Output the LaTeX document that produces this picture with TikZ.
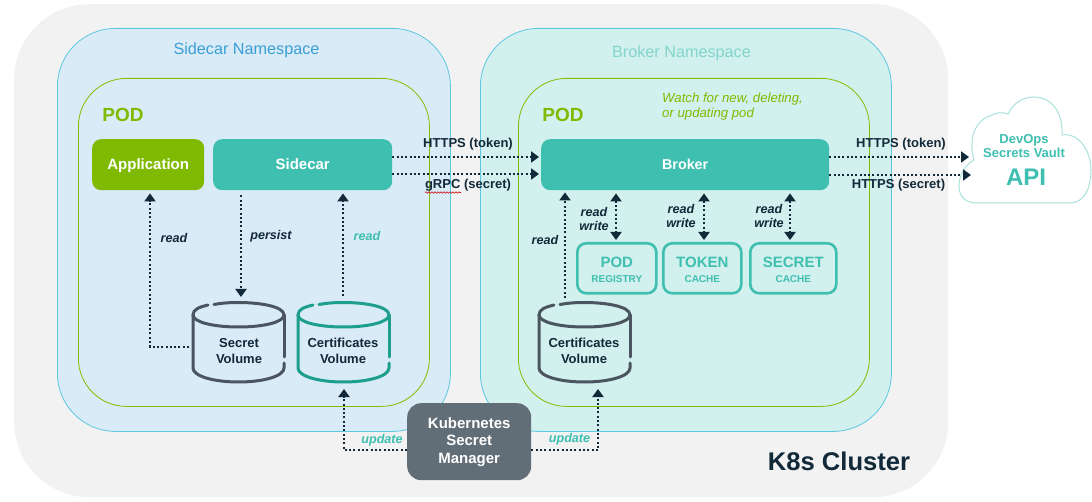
\documentclass[tikz,border=0pt]{standalone}
\usepackage{fontspec}
\setmainfont{Liberation Sans}
\usetikzlibrary{arrows.meta,calc,decorations.pathmorphing}
\definecolor{bgc}{HTML}{F2F2F2}
\definecolor{nsa}{HTML}{D8EBF6}
\definecolor{nsb}{HTML}{D2F0EE}
\definecolor{nsl}{HTML}{5CC8E0}
\definecolor{nsblue}{HTML}{3B9FD6}
\definecolor{podl}{HTML}{84BD00}
\definecolor{teal}{HTML}{3EBFB0}
\definecolor{lime}{HTML}{80BA00}
\definecolor{ink}{HTML}{12293A}
\definecolor{gry}{HTML}{626E77}
\definecolor{cylt}{HTML}{1E9E8C}
\definecolor{cyld}{HTML}{4A5560}
\newcommand{\fs}[1]{\fontsize{#1}{#1}\selectfont}
\newcommand{\cachetext}[2]{\rule{0pt}{13pt}{\fs{15}\bfseries #1}\\[3pt]{\fs{10}\bfseries #2}}
\tikzset{
  region/.style={draw=#1,line width=0.8pt,anchor=north west,inner sep=0pt},
  boxx/.style={fill=teal,rounded corners=9pt,text=white,font=\fs{15}\bfseries,inner sep=0pt,anchor=north west,text height=12pt,text depth=2pt},
  cache/.style={draw=teal,line width=2.6pt,fill=none,rounded corners=9pt,anchor=north west,inner sep=0pt,align=center,text=teal},
  conn/.style={ink,line width=2.1pt,dash pattern=on 2pt off 2.3pt,-{Triangle[length=8pt,width=11pt,sep=0pt]}},
  conn2/.style={conn,{Triangle[length=8pt,width=11pt]}-{Triangle[length=8pt,width=11pt]}},
  lbl/.style={font=\fs{13}\bfseries,text=ink,inner sep=0pt},
  ital/.style={font=\fs{12.6}\bfseries\itshape,text=ink,inner sep=0pt,align=center},
  cyltext/.style={font=\fs{13}\bfseries,text=ink,align=center,inner sep=0pt},
  cyl/.style={line width=3pt,line cap=round,#1},
}
\newcommand{\cylinder}[2]{% left x, colour
  \begin{scope}[shift={(#1,0)}]
   \draw[cyl=#2] (15,305) .. controls (7,307) and (0,309) .. (0,315) .. controls (0,322) and (20,327) .. (45.5,327) .. controls (71,327) and (91,322) .. (91,315) .. controls (91,306) and (65,302.5) .. (45.5,302.5) .. controls (37,302.5) and (29,303) .. (21,304.5);
   \draw[cyl=#2] (0,315) -- (0,368) .. controls (0,376) and (20,382) .. (45.5,382) .. controls (71,382) and (91,376) .. (91,368) -- (91,363);
   \draw[cyl=#2] (91,315) -- (91,357);
  \end{scope}}
\begin{document}
\begin{tikzpicture}[x=1pt,y=-1pt]
\useasboundingbox (0,0) rectangle (1092,502);
% regions
\node[fill=bgc,rounded corners=75pt,anchor=north west,minimum width=934pt,minimum height=493pt,inner sep=0pt] (cluster) at (14,4) {};
\node[region=nsl,fill=nsa,rounded corners=58pt,minimum width=393pt,minimum height=403pt] (nsside) at (57,28) {};
\node[region=nsl,fill=nsb,rounded corners=58pt,minimum width=411pt,minimum height=403pt] (nsbroker) at (480,28) {};
\node[region=podl,rounded corners=48pt,minimum width=351pt,minimum height=328pt] (podside) at (78,78) {};
\node[region=podl,rounded corners=48pt,minimum width=351pt,minimum height=328pt] (podbroker) at (518,78) {};
\node[font=\fs{16.2},inner sep=0pt,text=nsblue] (tside) at (246.5,50) {Sidecar Namespace};
\node[font=\fs{16.2},text=teal!65,inner sep=0pt] (tbroker) at (681.5,53) {Broker Namespace};
\node[font=\fs{19}\bfseries,text=lime,inner sep=0pt] (tpoda) at (123,115) {POD};
\node[font=\fs{19}\bfseries,text=lime,inner sep=0pt] (tpodb) at (563,115) {POD};
\node[font=\fs{13.2}\itshape,text=lime,align=left,anchor=north west,inner sep=0pt] (twatch) at (662,93) {Watch for new, deleting,\\[2pt]or updating pod};
\node[font=\fs{25.6}\bfseries,text=ink,inner sep=0pt] (tk8s) at (839,461) {K8s Cluster};
% boxes
\node[boxx,fill=lime,minimum width=112pt,minimum height=51pt] (app) at (92,139) {Application};
\node[boxx,minimum width=179pt,minimum height=51pt] (sidecar) at (213,139) {Sidecar};
\node[boxx,minimum width=288pt,minimum height=51pt,font=\fs{14.3}\bfseries] (broker) at (541,139) {Broker};
\node[cache,minimum width=79pt,minimum height=50pt] (reg) at (576,242) {\cachetext{POD}{REGISTRY}};
\node[cache,minimum width=78pt,minimum height=50pt] (tok) at (662,242) {\cachetext{TOKEN}{CACHE}};
\node[cache,minimum width=86pt,minimum height=50pt] (sec) at (749,242) {\cachetext{SECRET}{CACHE}};
\node[fill=gry,rounded corners=14pt,anchor=north west,minimum width=124pt,minimum height=77pt,inner sep=0pt,text=white,align=center,font=\fs{15}\bfseries] (ksm) at (407,403) {Kubernetes\\[2.5pt]Secret\\[2.5pt]Manager};
% cloud
\draw[draw=teal!45,fill=white,line width=1pt] (977,203)
  .. controls (965,203) and (959,196) .. (959,186)
  .. controls (959,175) and (965,165) .. (974,160)
  .. controls (968,140) and (975,120) .. (990,116)
  .. controls (997,112) and (1003,112) .. (1008,114)
  .. controls (1013,103) and (1023,97) .. (1034,97)
  .. controls (1050,97) and (1063,110) .. (1062,135)
  .. controls (1078,132) and (1091,150) .. (1091,170)
  .. controls (1091,190) and (1083,203) .. (1070,203) -- cycle;
\node[font=\fs{13}\bfseries,text=teal,align=center,inner sep=0pt] (cloudt) at (1024,146) {DevOps\\[1.5pt]Secrets Vault};
\node[font=\fs{24}\bfseries,text=teal,inner sep=0pt] (cloudapi) at (1026,177) {API};
\coordinate (cloudA) at (969,157);
\coordinate (cloudB) at (971,175);
% cylinders
\cylinder{193}{cyld}
\cylinder{298}{cylt}
\cylinder{539}{cyld}
\coordinate (cylS) at (193,347);
\coordinate (cylSt) at (241,297);
\coordinate (cylC) at (343,296);
\coordinate (cylCb) at (344,389);
\coordinate (cylB) at (565,298);
\coordinate (cylBb) at (598,389);
\node[cyltext] (ts) at (239,351) {Secret\\[2.5pt]Volume};
\node[cyltext] (tc) at (343,351) {Certificates\\[2.5pt]Volume};
\node[cyltext] (tb) at (584,351) {Certificates\\[2.5pt]Volume};
% connectors
\draw[conn] (sidecar.east |- 0,157) -- ($(broker.west |- 0,157)+(-2,0)$);
\draw[conn] (sidecar.east |- 0,174) -- ($(broker.west |- 0,174)+(-2,0)$);
\draw[conn] (broker.east |- 0,157) -- (cloudA);
\draw[conn] (broker.east |- 0,175) -- (cloudB);
\draw[conn] ($(cylS)+(-4,0)$) -| ($(app.south -| 150,0)+(0,3)$);
\draw[conn] ($(sidecar.south -| 241,0)+(0,5)$) -- (cylSt);
\draw[conn] (cylC) -- ($(sidecar.south -| 343,0)+(0,3)$);
\draw[conn] (cylB) -- ($(broker.south -| 565,0)+(0,2)$);
\draw[conn2] ($(broker.south -| 616,0)+(0,3)$) -- ($(reg.north -| 616,0)+(0,-2)$);
\draw[conn2] ($(broker.south -| 704,0)+(0,3)$) -- ($(tok.north -| 704,0)+(0,-2)$);
\draw[conn2] ($(broker.south -| 790,0)+(0,3)$) -- ($(sec.north -| 790,0)+(0,-2)$);
\draw[conn] (ksm.west |- 0,450) -| (cylCb);
\draw[conn] (ksm.east |- 0,450) -| (cylBb);
% labels
\node[lbl] (l1) at (468,144) {HTTPS (token)};
\node[lbl] (l2) at (468,185) {gRPC (secret)};
\draw[red!80!black,line width=0.6pt,decorate,decoration={snake,amplitude=0.7pt,segment length=3pt}] (425,192.5) -- (461,192.5);
\node[lbl] (l3) at (901,144) {HTTPS (token)};
\node[lbl] (l4) at (898.5,185) {HTTPS (secret)};
\node[ital] (r1) at (174,238) {read};
\node[ital] (r2) at (271,236) {persist};
\node[ital,text=teal] (r3) at (367,236) {read};
\node[ital] (r4) at (545,240) {read};
\node[ital] (r5) at (594,219) {read\\[1.5pt]write};
\node[ital] (r6) at (681,216) {read\\[1.5pt]write};
\node[ital] (r7) at (769,216) {read\\[1.5pt]write};
\node[ital,text=teal] (u1) at (382,440) {update};
\node[ital,text=teal] (u2) at (569.5,439) {update};
\end{tikzpicture}
\end{document}
